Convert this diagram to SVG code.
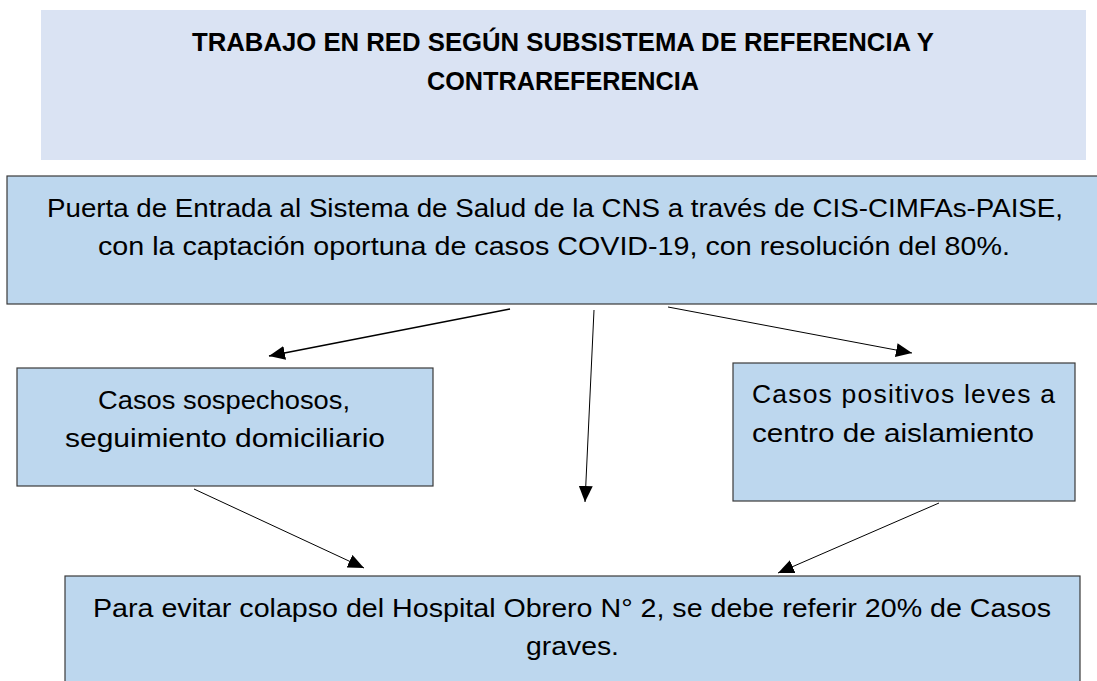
<svg xmlns="http://www.w3.org/2000/svg" width="1097" height="681" viewBox="0 0 1097 681">
<defs>
<style>
.box{fill:#bdd7ee;stroke:#3a3a3a;stroke-width:1.2}
.t{font-family:"Liberation Sans",Arial,sans-serif;font-size:26.5px;fill:#000}
.title{font-family:"Liberation Sans",Arial,sans-serif;font-size:26px;font-weight:bold;fill:#000}
.c{stroke:#000;stroke-width:1;fill:none;marker-end:url(#ah)}
</style>
<marker id="ah" markerUnits="userSpaceOnUse" markerWidth="17" markerHeight="14" refX="16" refY="7" orient="auto">
<path d="M0,0 L16,7 L0,14 z" fill="#000"/>
</marker>
</defs>
<rect width="1097" height="681" fill="#fff"/>
<g id="title">
<rect x="41" y="10" width="1045" height="150" fill="#dae3f3"/>
<text class="title" x="563" y="51" text-anchor="middle" textLength="742" lengthAdjust="spacingAndGlyphs">TRABAJO EN RED SEGÚN SUBSISTEMA DE REFERENCIA Y</text>
<text class="title" x="563" y="90" text-anchor="middle" textLength="272" lengthAdjust="spacingAndGlyphs">CONTRAREFERENCIA</text>
</g>
<g id="entrada">
<rect class="box" x="7" y="176" width="1095" height="128"/>
<text class="t" x="555" y="217" text-anchor="middle" textLength="1016" lengthAdjust="spacingAndGlyphs">Puerta de Entrada al Sistema de Salud de la CNS a través de CIS-CIMFAs-PAISE,</text>
<text class="t" x="554" y="255" text-anchor="middle" textLength="912" lengthAdjust="spacingAndGlyphs">con la captación oportuna de casos COVID-19, con resolución del 80%.</text>
</g>
<g id="sospechosos">
<rect class="box" x="17" y="368" width="416" height="118"/>
<text class="t" x="224" y="409" text-anchor="middle" textLength="252" lengthAdjust="spacingAndGlyphs">Casos sospechosos,</text>
<text class="t" x="225" y="447" text-anchor="middle" textLength="320" lengthAdjust="spacingAndGlyphs">seguimiento domiciliario</text>
</g>
<g id="positivos">
<rect class="box" x="733" y="363" width="342" height="138"/>
<text class="t" x="752" y="403" textLength="303" lengthAdjust="spacing">Casos positivos leves a</text>
<text class="t" x="752" y="442" textLength="282" lengthAdjust="spacingAndGlyphs">centro de aislamiento</text>
</g>
<g id="hospital">
<rect class="box" x="65" y="576" width="1015" height="115"/>
<text class="t" x="572" y="617" text-anchor="middle" textLength="958" lengthAdjust="spacingAndGlyphs">Para evitar colapso del Hospital Obrero N° 2, se debe referir 20% de Casos</text>
<text class="t" x="572.5" y="655" text-anchor="middle" textLength="93" lengthAdjust="spacingAndGlyphs">graves.</text>
</g>
<g id="connectors">
<line class="c" x1="510" y1="309" x2="269" y2="356" style="stroke-width:1.7"/>
<line class="c" x1="594" y1="310" x2="585" y2="502"/>
<line class="c" x1="668" y1="307" x2="912" y2="353"/>
<line class="c" x1="194" y1="489" x2="364" y2="568"/>
<line class="c" x1="939" y1="503" x2="778" y2="573"/>
</g>
</svg>
